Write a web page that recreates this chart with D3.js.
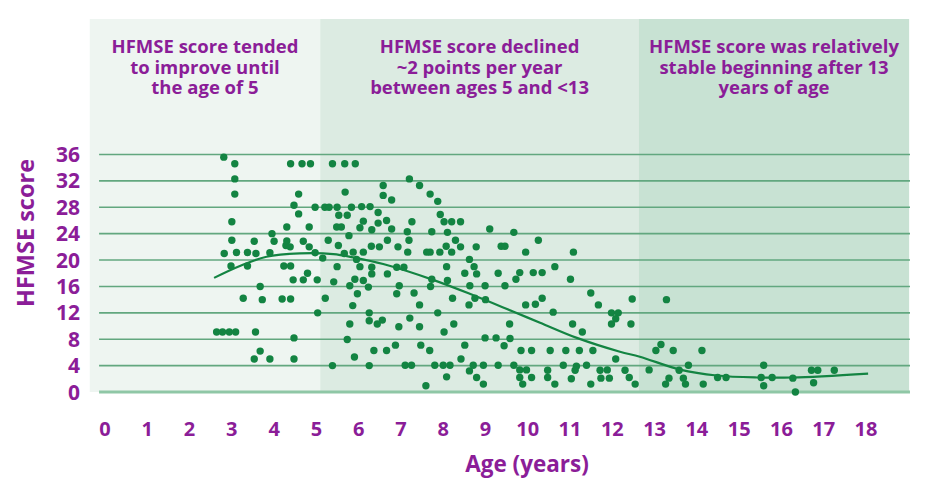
<!DOCTYPE html>
<html>
<head>
<meta charset="utf-8">
<script src="https://cdn.jsdelivr.net/npm/d3@7"></script>
<style>
  body { margin: 0; background: #fff; }
  #chart text { font-family: "Open Sans", Lato, sans-serif; font-weight: 700; fill: #8b1d98; }
</style>
</head>
<body>
<svg id="chart" width="927" height="494"></svg>
<script>
const xTicks = d3.range(0, 19);
const yTicks = [0, 4, 8, 12, 16, 20, 24, 28, 32, 36];

// age ranges of the three shaded zones
const zoneStarts = [-0.36, 5.09, 12.63];
const zoneEnds = [5.09, 12.63, 19.02];
const zoneFills = ["#eef5f1", "#dcebe2", "#c8e2d3"];
const zoneNotes = [
    ["HFMSE score tended", "to improve until", "the age of 5"],
    ["HFMSE score declined", "~2 points per year", "between ages 5 and <13"],
    ["HFMSE score was relatively", "stable beginning after 13", "years of age"]
];

// [age, HFMSE score]
const points = [
    [2.81,35.6],[3.07,34.6],[3.07,32.3],[3.07,30.0],[3.0,25.8],[3.0,23.0],[2.82,21.0],[3.11,21.15],[2.98,19.1],
    [3.37,21.15],[3.57,21.0],[3.37,19.1],[3.53,22.85],[3.9,21.1],[3.95,24.0],[4.0,22.85],[3.67,16.0],[3.27,14.2],
    [3.72,14.0],[2.64,9.1],[2.78,9.1],[2.94,9.1],[3.09,9.1],[3.56,9.1],[3.67,6.2],[3.53,5.0],[3.9,5.0],[4.47,5.0],
    [4.47,8.2],[4.19,14.1],[4.39,14.1],[4.3,25.0],[4.3,22.9],[4.28,22.2],[4.38,22.0],[4.23,19.1],[4.39,19.1],
    [4.45,17.0],[4.69,17.0],[4.79,18.0],[5.02,17.0],[4.69,22.85],[4.83,22.0],[4.97,21.1],[4.83,25.0],[4.39,34.6],
    [4.66,34.6],[4.86,34.6],[4.58,30.0],[4.47,28.3],[4.58,27.0],[4.97,28.0],[5.03,12.0],
    [5.15,20.3],[5.38,34.6],[5.67,34.6],[5.92,34.6],[7.2,32.3],[7.44,31.3],[6.58,31.3],[6.58,29.8],[6.78,29.1],
    [5.68,30.3],[7.69,30.0],[7.87,28.9],[7.93,26.9],[8.02,25.8],[8.2,25.8],[8.41,25.8],[7.26,25.8],[6.46,27.2],
    [6.46,25.6],[6.66,26.0],[6.11,25.9],[6.03,24.9],[6.31,24.6],[6.78,24.7],[5.2,28.0],[5.3,28.0],[5.49,28.0],
    [5.83,28.0],[6.07,28.1],[6.27,28.1],[5.53,26.8],[5.73,26.8],[5.48,25.0],[5.59,25.0],[5.77,23.7],[5.28,23.0],
    [7.15,24.3],[7.19,23.0],[6.68,23.0],[6.93,22.0],[7.16,21.2],[6.3,22.1],[6.49,22.0],[5.52,22.2],[6.11,21.2],
    [5.87,21.2],[5.66,21.0],[5.95,20.1],[6.03,19.0],[6.31,18.9],[6.31,17.9],[5.49,19.0],[5.41,16.7],[5.91,17.1],
    [6.11,16.9],[5.79,16.1],[6.23,15.9],[5.97,14.9],[6.68,17.9],[6.9,18.9],[7.07,18.9],[6.96,16.1],[6.9,14.9],
    [7.31,15.0],[7.44,13.2],[5.21,14.2],[5.86,13.1],[6.25,12.0],[6.25,10.8],[6.44,10.3],[6.56,10.9],[5.79,10.3],
    [5.73,7.95],[5.9,5.3],[6.36,6.3],[6.66,6.3],[6.87,7.1],[6.95,9.9],[7.21,11.2],[7.44,9.9],[7.47,7.1],[7.68,6.3],
    [5.38,4.0],[6.25,4.0],[7.1,4.05],[7.25,4.05],[7.8,4.05],[8.0,4.05],[8.16,4.05],[7.59,0.95],[8.08,2.3],
    [7.73,24.3],[8.1,24.2],[8.29,23.0],[8.41,22.0],[8.07,22.1],[8.2,21.2],[7.61,21.2],[7.69,21.2],[7.92,21.2],
    [7.73,17.1],[7.7,16.0],[8.08,19.0],[8.1,16.9],[7.87,12.0],[8.02,9.1],[8.25,10.3],[8.22,14.2],[8.62,20.1],
    [8.73,19.0],[8.79,17.9],[8.51,18.0],[8.63,16.1],[8.75,14.2],[9.0,14.0],[8.61,13.2],[8.78,22.0],[9.1,24.7],
    [8.99,16.1],[9.3,18.0],[9.37,22.1],[9.46,22.1],[9.46,16.1],[9.67,24.2],[9.72,17.1],[9.81,18.1],[9.95,21.2],
    [10.13,18.1],[10.34,18.1],[10.25,23.0],[10.64,19.0],[11.01,17.1],[11.08,21.2],[9.95,13.2],[10.18,13.3],
    [10.34,14.2],[10.6,12.1],[11.49,15.0],[11.67,13.2],[11.98,12.0],[12.14,12.0],[12.08,11.1],[11.98,10.3],
    [11.06,10.3],[11.29,9.1],[9.57,10.3],[9.58,8.1],[9.44,7.0],[8.99,8.2],[9.25,8.2],[8.51,7.1],[8.42,5.0],
    [8.62,3.2],[8.71,4.05],[8.79,2.2],[8.95,1.2],[8.95,4.05],[9.3,4.05],[9.67,4.05],[9.81,3.35],[9.97,3.35],
    [9.81,2.2],[9.88,1.2],[10.09,2.2],[9.84,6.3],[10.09,6.3],[10.53,6.3],[10.9,6.3],[11.22,6.3],[11.54,6.3],
    [10.47,3.3],[10.47,2.2],[10.64,1.2],[10.84,4.05],[11.15,3.9],[11.12,3.3],[11.39,4.05],[11.03,2.0],[11.49,1.2],
    [11.71,3.3],[11.88,3.35],[11.73,2.1],[11.93,2.1],[12.08,5.0],
    [12.3,3.3],[12.4,2.2],[12.54,1.2],[12.47,14.1],[12.44,10.3],[13.28,14.0],[13.03,6.3],[13.15,7.2],[13.44,6.3],
    [12.87,3.35],[13.58,3.3],[13.8,4.05],[13.34,2.1],[13.26,1.2],[13.68,2.1],[13.73,1.2],[14.12,6.3],[14.15,1.2],
    [14.49,2.2],[14.69,2.2],[15.58,4.05],[15.52,2.2],[15.78,2.2],[15.58,0.95],[16.27,2.1],[16.33,0.0],[16.71,3.3],
    [16.86,3.3],[16.76,1.4],[17.25,3.3]
];

// smoothed trend line
const fitAges = [2.58, 3.19, 3.82, 4.61, 5.4, 5.87, 6.58, 7.76, 8.7, 9.65, 10.29, 11.16, 12.18, 12.65, 13.6, 14.47, 15.42, 16.27, 18.05];
const fitScores = [17.3, 19.1, 20.5, 21.0, 20.9, 20.4, 19.4, 17.0, 14.7, 12.2, 10.5, 8.2, 6.1, 5.35, 3.4, 2.5, 2.2, 2.2, 2.8];

const svg = d3.select("#chart");

const x = d3.scaleLinear().domain([0, 18]).range([105, 866]);
const y = d3.scaleLinear().domain([0, 36]).range([392, 154.5]);

const panelTop = 19;
const green = "#138442";

// shaded zones
svg.append("g")
    .selectAll("rect")
    .data(zoneStarts)
    .enter().append("rect")
    .attr("x", d => x(d))
    .attr("y", panelTop)
    .attr("width", (d, i) => x(zoneEnds[i]) - x(d))
    .attr("height", y(0) - panelTop)
    .attr("fill", (d, i) => zoneFills[i]);

// zone notes
zoneNotes.forEach((lines, i) => {
    const cx = (x(zoneStarts[i]) + x(zoneEnds[i])) / 2;
    svg.append("text")
        .attr("x", cx)
        .attr("y", 53)
        .attr("text-anchor", "middle")
        .style("font-size", "18.5px")
        .selectAll("tspan")
        .data(lines)
        .enter().append("tspan")
        .attr("x", cx)
        .attr("dy", (d, j) => j === 0 ? 0 : 20.5)
        .text(d => d);
});

// gridlines
const gridX0 = x(-0.14), gridX1 = x(19.04);
svg.append("g")
    .selectAll("line")
    .data(yTicks)
    .enter().append("line")
    .attr("x1", gridX0)
    .attr("x2", gridX1)
    .attr("y1", d => y(d))
    .attr("y2", d => y(d))
    .attr("stroke", d => d === 0 ? "#8fc7a6" : "#62a77f")
    .attr("stroke-width", d => d === 0 ? 3 : 1.6);

// axis labels
svg.append("g")
    .selectAll("text")
    .data(yTicks)
    .enter().append("text")
    .attr("x", 80)
    .attr("y", d => y(d))
    .attr("dy", "0.36em")
    .attr("text-anchor", "end")
    .style("font-size", "21px")
    .text(d => d);

svg.append("g")
    .selectAll("text")
    .data(xTicks)
    .enter().append("text")
    .attr("x", d => x(d))
    .attr("y", 436)
    .attr("text-anchor", "middle")
    .style("font-size", "20px")
    .text(d => d);

svg.append("text")
    .attr("x", 527)
    .attr("y", 472)
    .attr("text-anchor", "middle")
    .style("font-size", "22.5px")
    .text("Age (years)");

svg.append("text")
    .attr("transform", "translate(34,233) rotate(-90)")
    .attr("text-anchor", "middle")
    .style("font-size", "23.5px")
    .text("HFMSE score");

// points
svg.append("g")
    .selectAll("circle")
    .data(points)
    .enter().append("circle")
    .attr("cx", d => x(d[0]))
    .attr("cy", d => y(d[1]))
    .attr("r", 3.7)
    .attr("fill", green);

// trend
const line = d3.line()
    .x(d => x(d[0]))
    .y(d => y(d[1]))
    .curve(d3.curveCatmullRom);

svg.append("path")
    .datum(fitAges.map((a, i) => [a, fitScores[i]]))
    .attr("d", line)
    .attr("fill", "none")
    .attr("stroke", green)
    .attr("stroke-width", 2.2);
</script>
</body>
</html>
